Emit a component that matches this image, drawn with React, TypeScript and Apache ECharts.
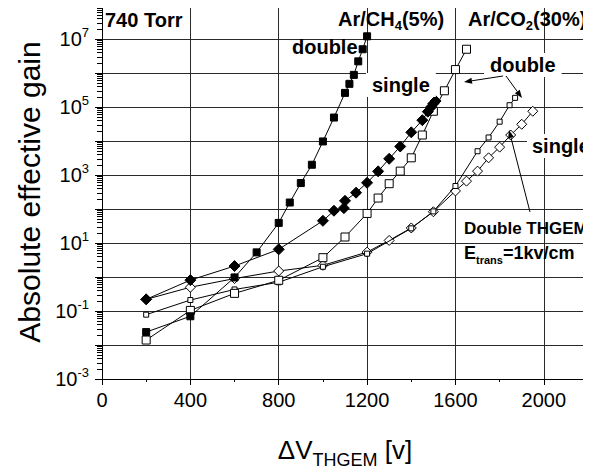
import React, { useEffect, useRef } from 'react';
import * as echarts from 'echarts';

type Pt = [number, number];

// ---- data ----
const xTickValues = [0, 400, 800, 1200, 1600, 2000];
const yLabelExponents = [-3, -1, 1, 3, 5, 7];

// Ar/CH4(5%) double THGEM (filled squares)
const arCH4Double: Pt[] = [
  [200, 0.024], [400, 0.07], [600, 0.97], [700, 5.3], [800, 39], [850, 155],
  [900, 580], [950, 2000], [1000, 9700], [1050, 4.9e4], [1100, 2.6e5],
  [1120, 4.8e5], [1140, 8.8e5], [1160, 2.2e6], [1180, 5e6], [1200, 1.2e7],
];
// Ar/CH4(5%) single THGEM (filled diamonds)
const arCH4Single: Pt[] = [
  [200, 0.22], [400, 0.81], [600, 2.1], [800, 6.5], [1000, 45], [1050, 89],
  [1095, 106], [1100, 174], [1150, 302], [1200, 590], [1250, 1280], [1300, 3000],
  [1350, 6900], [1400, 1.8e4], [1450, 4.1e4], [1475, 7.3e4], [1490, 1.0e5],
  [1500, 1.26e5], [1510, 1.5e5],
];
// double THGEM (large open squares)
const doubleLarge: Pt[] = [
  [200, 0.014], [400, 0.104], [600, 0.33], [800, 0.8], [1000, 3.7], [1100, 15],
  [1200, 74], [1250, 210], [1300, 555], [1350, 1300], [1400, 3200], [1450, 1.5e4],
  [1500, 7.5e4], [1550, 3e5], [1600, 1.26e6], [1650, 5e6],
];
// Ar/CO2(30%) double THGEM (small open squares)
const arCO2Double: Pt[] = [
  [200, 0.078], [400, 0.21], [600, 0.43], [800, 0.7], [1000, 2.0], [1200, 4.85],
  [1400, 27], [1500, 85], [1600, 475], [1700, 5000], [1750, 1.27e4],
  [1800, 3.7e4], [1845, 1.13e5], [1870, 1.86e5],
];
// Ar/CO2(30%) single THGEM (open diamonds)
const arCO2Single: Pt[] = [
  [200, 0.22], [400, 0.5], [600, 0.9], [800, 1.5], [1000, 2.2], [1200, 5.4],
  [1300, 11.9], [1400, 27.7], [1500, 83], [1600, 340], [1650, 660], [1700, 1300],
  [1750, 3200], [1800, 6600], [1850, 1.5e4], [1900, 3.1e4], [1950, 7.5e4],
];

// log-axis minor tick positions (k × 10^n)
const minorDecades = [-3, -2, -1, 0, 1, 2, 3, 4, 5, 6, 7];
const minorMultipliers = [2, 3, 4, 5, 6, 7, 8, 9];

const FONT = 'Arial, "Liberation Sans", Helvetica, sans-serif';
const GRID = '#2a2a2a';

function arrow(x1: number, y1: number, x2: number, y2: number): any[] {
  const ang = Math.atan2(y2 - y1, x2 - x1);
  const len = 8;
  const w = 3;
  const bx = x2 - len * Math.cos(ang);
  const by = y2 - len * Math.sin(ang);
  const px = -Math.sin(ang) * w;
  const py = Math.cos(ang) * w;
  return [
    { type: 'line', silent: true, z: 60, shape: { x1, y1, x2: bx, y2: by }, style: { stroke: '#000', lineWidth: 1 } },
    {
      type: 'polygon', silent: true, z: 60,
      shape: { points: [[x2, y2], [bx + px, by + py], [bx - px, by - py]] },
      style: { fill: '#000' },
    },
  ];
}

function label(text: string, x: number, y: number, size: number, opts: any = {}): any {
  return {
    type: 'text',
    silent: true,
    x,
    y,
    z: 50,
    style: {
      text,
      fontFamily: FONT,
      fontWeight: 'bold',
      fontSize: size,
      fill: '#000',
      align: 'left',
      verticalAlign: 'middle',
      ...opts,
    },
  };
}

function lineSeries(name: string, data: Pt[], symbol: string, size: number, filled: boolean, z: number): any {
  return {
    type: 'line',
    name,
    data,
    symbol,
    symbolSize: size,
    showSymbol: true,
    silent: true,
    z,
    lineStyle: { color: '#000', width: 1 },
    itemStyle: { color: filled ? '#000' : '#fff', borderColor: '#000', borderWidth: 1 },
  };
}

export default function App() {
  const ref = useRef<HTMLDivElement>(null);

  useEffect(() => {
    if (!ref.current) return;
    const chart = echarts.init(ref.current, undefined, { renderer: 'svg' });

    const minorTickValues: number[] = [];
    minorDecades.forEach((d) => minorMultipliers.forEach((m) => minorTickValues.push(m * Math.pow(10, d))));

    const subRich = (size: number, base: number, lh: number, weight: string) => ({
      a: { fontFamily: FONT, fontWeight: weight, fontSize: base, lineHeight: lh, color: '#000' },
      s: { fontFamily: FONT, fontWeight: weight, fontSize: size, lineHeight: size, verticalAlign: 'bottom', color: '#000' },
    });

    const option: any = {
      animation: false,
      backgroundColor: '#fff',
      textStyle: { fontFamily: FONT },
      grid: { left: 102, top: 5, width: 496, height: 378, containLabel: false },
      xAxis: {
        type: 'value',
        min: 0,
        max: 2200,
        interval: 400,
        name: '{a|ΔV}{s|THGEM}{a| [v]}',
        nameLocation: 'middle',
        nameGap: 52,
        nameTextStyle: {
          rich: {
            a: { fontFamily: FONT, fontSize: 26, lineHeight: 38, color: '#000' },
            s: { fontFamily: FONT, fontSize: 18, lineHeight: 16, verticalAlign: 'bottom', color: '#000' },
          },
        },
        axisLine: { show: true, onZero: false, lineStyle: { color: '#000', width: 1 } },
        axisTick: { show: true, inside: false, length: 6, lineStyle: { color: '#000' } },
        minorTick: { show: true, splitNumber: 2, length: 3, lineStyle: { color: '#000' } },
        axisLabel: {
          color: '#000',
          fontSize: 20,
          fontFamily: FONT,
          margin: 11,
          formatter: (v: number) => (xTickValues.includes(v) ? String(v) : ''),
        },
        splitLine: { show: true, lineStyle: { color: GRID, width: 1 } },
      },
      yAxis: [
        {
          type: 'log',
          logBase: 10,
          min: 1e-3,
          max: 1e8,
          interval: 1,
          splitNumber: 11,
          position: 'left',
          name: 'Absolute effective gain',
          nameLocation: 'middle',
          nameGap: 56,
          nameTextStyle: { fontFamily: FONT, fontSize: 30, color: '#000' },
          axisLine: { show: true, onZero: false, lineStyle: { color: '#000', width: 1 } },
          axisTick: { show: true, inside: false, length: 7, lineStyle: { color: '#000' } },
          axisLabel: {
            margin: 13,
            showMinLabel: true,
            showMaxLabel: true,
            formatter: (v: number) => {
              const e = Math.round(Math.log10(v));
              return yLabelExponents.includes(e) ? `{a|10}{sup|${e}}` : '';
            },
            rich: {
              a: { fontFamily: FONT, fontSize: 20, lineHeight: 26, color: '#000' },
              sup: { fontFamily: FONT, fontSize: 13, lineHeight: 12, verticalAlign: 'top', color: '#000' },
            },
          },
          splitLine: { show: true, lineStyle: { color: GRID, width: 1 } },
        },
        {
          // carries only the logarithmic minor ticks
          type: 'log',
          logBase: 10,
          min: 1e-3,
          max: 1e8,
          position: 'left',
          offset: 0,
          axisLine: { show: false, onZero: false },
          axisTick: {
            show: true,
            inside: false,
            length: 5,
            customValues: minorTickValues,
            lineStyle: { color: '#000', width: 1 },
          },
          axisLabel: { show: false },
          splitLine: { show: false },
        },
      ],
      series: [
        lineSeries('Ar/CO2 single', arCO2Single, 'diamond', 10, false, 3),
        lineSeries('Ar/CO2 double', arCO2Double, 'rect', 5, false, 4),
        lineSeries('double large', doubleLarge, 'rect', 8, false, 5),
        lineSeries('Ar/CH4 single', arCH4Single, 'diamond', 11, true, 6),
        lineSeries('Ar/CH4 double', arCH4Double, 'rect', 7, true, 7),
      ],
      graphic: [
        label('740 Torr', 105, 20, 20),
        label('{a|Ar/CH}{s|4}{a|(5%)}', 338, 19, 20, { rich: subRich(13, 20, 26, 'bold') }),
        label('{a|Ar/CO}{s|2}{a|(30%)}', 468, 19, 20, { rich: subRich(13, 20, 26, 'bold') }),
        label('double', 292, 47, 20),
        label('single', 366, 85, 20, { backgroundColor: '#fff', padding: [2, 6, 2, 6] }),
        label('double', 484, 65, 20, { backgroundColor: '#fff', padding: [2, 6, 2, 6] }),
        label('single', 527, 146, 20, { backgroundColor: '#fff', padding: [2, 5, 2, 5] }),
        label('Double THGEM', 464, 228, 17),
        label('{a|E}{s|trans}{a|=1kv/cm}', 464, 253, 18, { rich: subRich(11, 18, 24, 'bold') }),
        ...arrow(503, 76, 464, 82),
        ...arrow(506, 76, 522, 98),
        ...arrow(530, 212, 509, 130),
      ],
    };

    chart.setOption(option);
    return () => chart.dispose();
  }, []);

  return <div ref={ref} style={{ width: 591, height: 474, margin: -8 }} />;
}
